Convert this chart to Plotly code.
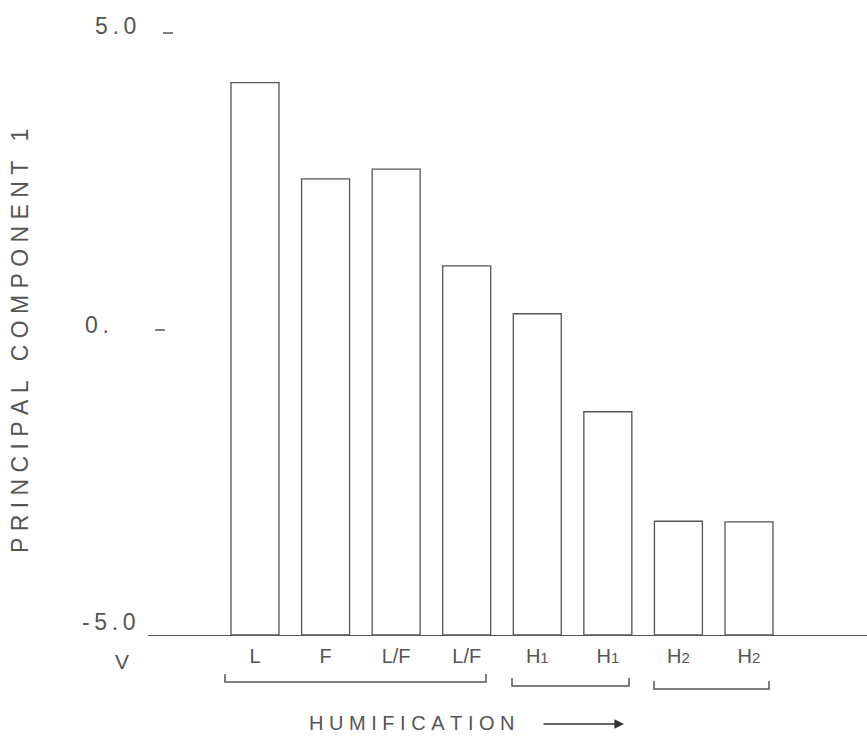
import plotly.graph_objects as go

# ---- data ----
categories = ["L", "F", "L/F", "L/F", "H1", "H1", "H2", "H2"]
pc1_values = [4.13, 2.54, 2.70, 1.10, 0.31, -1.31, -3.12, -3.13]
tick_labels = ["L", "F", "L/F", "L/F",
               "H<span style='font-size:15px'>1</span>",
               "H<span style='font-size:15px'>1</span>",
               "H<span style='font-size:15px'>2</span>",
               "H<span style='font-size:15px'>2</span>"]
y_tick_values = [5.0, 0.0, -5.0]
y_tick_texts = ["5.0", "0.", "-5.0"]
y_min = -5.0
y_max = 5.0

# ---- layout geometry (pixels) ----
W, H = 867, 737
L_M, R_M, T_M, B_M = 148, 0, 30, 102
PW = W - L_M - R_M
PH = H - T_M - B_M
INK = "#555555"
FONT = "Liberation Sans"


def px(x):
    return (x - L_M) / PW


def py(y):
    return (H - B_M - y) / PH


NB = "\u00a0"
TH = "\u2009"


def spaced(text, gap=NB, wordgap=3):
    words = text.split(" ")
    return (NB * wordgap).join(gap.join(list(w)) for w in words)


xs = list(range(len(categories)))
pitch = 70.57
x_left = (L_M - 255) / pitch
x_right = (W - 255) / pitch

fig = go.Figure()
fig.add_trace(go.Bar(
    x=xs,
    y=[v - y_min for v in pc1_values],
    base=y_min,
    width=0.68,
    marker=dict(color="white", line=dict(color=INK, width=1.3)),
    hovertext=categories,
))

annotations = []
# y tick labels
ytick_px = [(115, 26), (97, 325), (108, 622)]
for (ax_, ay_), txt in zip(ytick_px, y_tick_texts):
    annotations.append(dict(text=TH.join(list(txt)), x=px(ax_), y=py(ay_),
                            xref="paper", yref="paper",
                            showarrow=False, xanchor="center", yanchor="middle",
                            font=dict(family=FONT, size=23, color=INK)))
# V mark
annotations.append(dict(text="V", x=px(122), y=py(661), xref="paper", yref="paper",
                        showarrow=False, xanchor="center", yanchor="middle",
                        font=dict(family=FONT, size=21, color=INK)))
# y title
annotations.append(dict(text=spaced("PRINCIPAL COMPONENT 1"), x=px(20), y=py(341),
                        xref="paper", yref="paper", showarrow=False, textangle=-90,
                        xanchor="center", yanchor="middle",
                        font=dict(family=FONT, size=23, color=INK)))
# x title
annotations.append(dict(text=spaced("HUMIFICATION"), x=px(412), y=py(723),
                        xref="paper", yref="paper", showarrow=False,
                        xanchor="center", yanchor="middle",
                        font=dict(family=FONT, size=20, color=INK)))
# arrow
annotations.append(dict(text="", x=px(624), y=py(724), ax=542 - 624, ay=0,
                        xref="paper", yref="paper", axref="pixel", ayref="pixel",
                        showarrow=True, arrowhead=2, arrowsize=1.2, arrowwidth=1.6,
                        arrowcolor="#333"))

shapes = []
# y tick dashes
for (x0, x1, yy) in [(163, 173, 33), (155, 165, 330)]:
    shapes.append(dict(type="line", xref="paper", yref="paper",
                       x0=px(x0), x1=px(x1), y0=py(yy), y1=py(yy),
                       line=dict(color=INK, width=1.5)))
# brackets
for (x0, x1, ytop, ybot) in [(225, 486, 674, 682), (512, 629, 678, 686), (654, 769, 681, 689)]:
    path = (f"M {px(x0)} {py(ytop)} L {px(x0)} {py(ybot)} "
            f"L {px(x1)} {py(ybot)} L {px(x1)} {py(ytop)}")
    shapes.append(dict(type="path", xref="paper", yref="paper", path=path,
                       line=dict(color=INK, width=1.5)))

fig.update_layout(
    width=W, height=H,
    margin=dict(l=L_M, r=R_M, t=T_M, b=B_M),
    plot_bgcolor="white", paper_bgcolor="white",
    showlegend=False,
    xaxis=dict(range=[x_left, x_right], tickvals=xs, ticktext=tick_labels,
               showgrid=False, zeroline=False, showline=True, linecolor=INK, linewidth=1.3,
               ticks="outside", ticklen=3, tickcolor="rgba(0,0,0,0)",
               tickfont=dict(family=FONT, size=20, color=INK), fixedrange=True),
    yaxis=dict(range=[y_min, y_max], showticklabels=False, showgrid=False,
               zeroline=False, showline=False, ticks="", fixedrange=True),
    annotations=annotations,
    shapes=shapes,
)

fig.write_html("out.html", config={"displayModeBar": False},
               post_script="document.body.style.margin='0';document.body.style.overflow='hidden';")
